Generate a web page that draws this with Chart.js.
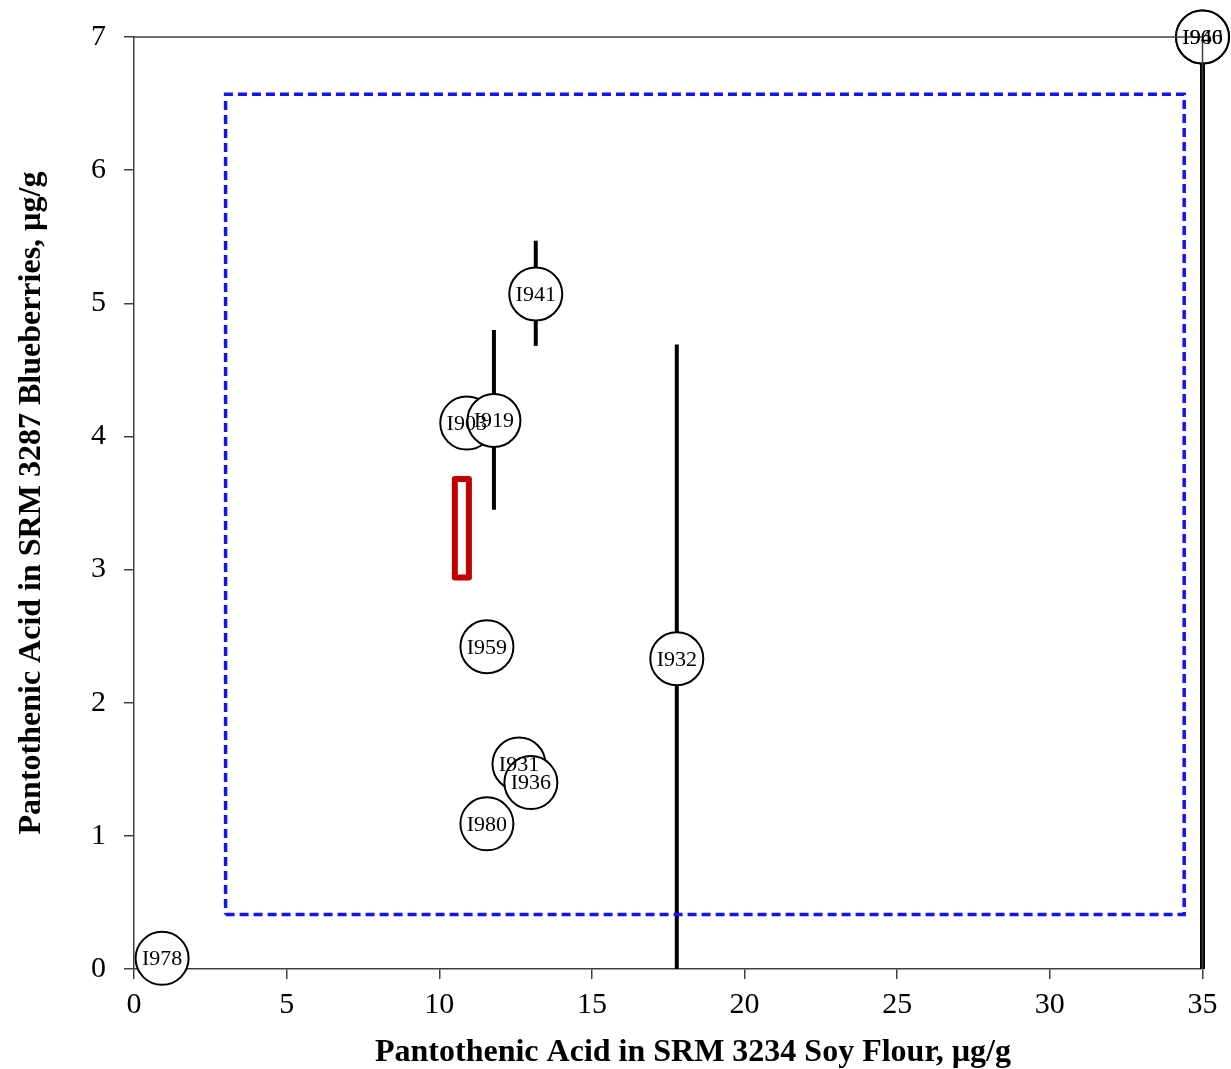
<!DOCTYPE html>
<html>
<head>
<meta charset="utf-8">
<script src="https://cdn.jsdelivr.net/npm/chart.js@4/dist/chart.umd.min.js"></script>
<style>
  html, body { margin: 0; padding: 0; background: #fff; }
  #wrap { width: 1231px; height: 1069px; position: relative; }
</style>
</head>
<body>
<div id="wrap"><canvas id="chart"></canvas></div>
<script>
// laboratory results: soy flour (x) vs blueberries (y), µg/g
const labCodes = ['I978', 'I903', 'I919', 'I941', 'I959', 'I932', 'I931', 'I936', 'I980', 'I946', 'I960'];
const soyValues = [0.92, 10.9, 11.79, 13.16, 11.56, 17.78, 12.61, 13.0, 11.56, 35, 35];
const blueberryValues = [0.08, 4.10, 4.12, 5.07, 2.42, 2.33, 1.54, 1.40, 1.09, 7.0, 7.0];
// vertical uncertainty bars (null = none)
const blueberryLow = [null, null, 3.45, 4.68, null, 0, null, null, null, 0, 0];
const blueberryHigh = [null, null, 4.80, 5.47, null, 4.69, null, null, null, 7, 7];

// consensus region (red) and tolerance region (blue dashed)
const consensusX = [10.51, 10.97];
const consensusY = [2.94, 3.68];
const toleranceX = [3.0, 34.4];
const toleranceY = [0.41, 6.57];

const xTicks = [0, 5, 10, 15, 20, 25, 30, 35];
const yTicks = [0, 1, 2, 3, 4, 5, 6, 7];

const serif = '"Liberation Serif", "Times New Roman", serif';

function box(xs, ys) {
    return [
        { x: xs[0], y: ys[0] }, { x: xs[1], y: ys[0] },
        { x: xs[1], y: ys[1] }, { x: xs[0], y: ys[1] },
        { x: xs[0], y: ys[0] }
    ];
}

const points = labCodes.map((code, i) => ({ x: soyValues[i], y: blueberryValues[i] }));

// error bars under the circles, frame and labels on top
const extras = {
    id: 'extras',
    beforeDatasetsDraw(chart) {
        const { ctx, scales: { x, y } } = chart;
        ctx.save();
        ctx.strokeStyle = '#000';
        ctx.lineCap = 'butt';
        labCodes.forEach((code, i) => {
            if (blueberryLow[i] === null) return;
            const px = x.getPixelForValue(soyValues[i]);
            ctx.lineWidth = soyValues[i] >= 35 ? 5 : 4;
            ctx.beginPath();
            ctx.moveTo(px, y.getPixelForValue(blueberryLow[i]));
            ctx.lineTo(px, y.getPixelForValue(blueberryHigh[i]));
            ctx.stroke();
        });
        ctx.restore();
    },
    afterDatasetsDraw(chart) {
        const { ctx, chartArea: a, scales: { x, y } } = chart;
        ctx.save();
        // top and right edges of the frame
        ctx.strokeStyle = '#404040';
        ctx.lineWidth = 1.5;
        ctx.beginPath();
        ctx.moveTo(a.left, a.top);
        ctx.lineTo(a.right, a.top);
        ctx.lineTo(a.right, a.bottom);
        ctx.stroke();

        ctx.fillStyle = '#000';
        ctx.font = '22px ' + serif;
        ctx.textAlign = 'center';
        ctx.textBaseline = 'middle';
        labCodes.forEach((code, i) => {
            ctx.fillText(code, x.getPixelForValue(soyValues[i]), y.getPixelForValue(blueberryValues[i]) + 1);
        });

        // axis titles
        ctx.font = 'bold 32px ' + serif;
        ctx.textBaseline = 'alphabetic';
        ctx.fillText('Pantothenic Acid in SRM 3234 Soy Flour, µg/g', 693, 1061);
        ctx.translate(40, (a.top + a.bottom) / 2);
        ctx.rotate(-Math.PI / 2);
        ctx.fillText('Pantothenic Acid in SRM 3287 Blueberries, µg/g', 0, 0);
        ctx.restore();
    }
};

new Chart(document.getElementById('chart'), {
    type: 'scatter',
    data: {
        datasets: [
            {
                label: 'tolerance',
                data: box(toleranceX, toleranceY),
                showLine: true,
                borderColor: '#1414f0',
                borderWidth: 3.5,
                borderDash: [9, 5],
                pointRadius: 0,
                fill: false
            },
            {
                label: 'consensus',
                data: box(consensusX, consensusY),
                showLine: true,
                borderColor: '#c00000',
                borderWidth: 6,
                borderJoinStyle: 'round',
                pointRadius: 0,
                fill: false
            },
            {
                label: 'labs',
                data: points,
                pointRadius: 26.5,
                pointBackgroundColor: '#fff',
                pointBorderColor: '#000',
                pointBorderWidth: 2,
                clip: false
            }
        ]
    },
    options: {
        responsive: true,
        maintainAspectRatio: false,
        animation: false,
        layout: { padding: { left: 0, top: 37, right: 28, bottom: 0 } },
        plugins: {
            legend: { display: false },
            tooltip: { enabled: false }
        },
        scales: {
            x: {
                type: 'linear',
                min: 0,
                max: 35,
                afterFit(scale) { scale.height = 100; },
                afterBuildTicks(scale) { scale.ticks = xTicks.map(v => ({ value: v })); },
                grid: { drawOnChartArea: false, tickLength: 10, color: '#404040', lineWidth: 1.5 },
                border: { color: '#404040', width: 1.5 },
                ticks: { color: '#000', font: { family: serif, size: 30 }, padding: 8, maxRotation: 0 }
            },
            y: {
                type: 'linear',
                min: 0,
                max: 7,
                afterFit(scale) { scale.width = 134; },
                afterBuildTicks(scale) { scale.ticks = yTicks.map(v => ({ value: v })); },
                grid: { drawOnChartArea: false, tickLength: 10, color: '#404040', lineWidth: 1.5 },
                border: { color: '#404040', width: 1.5 },
                ticks: { color: '#000', font: { family: serif, size: 30 }, padding: 18 }
            }
        }
    },
    plugins: [extras]
});
</script>
</body>
</html>
